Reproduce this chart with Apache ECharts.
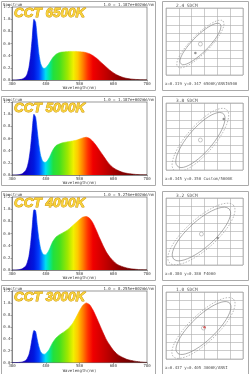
<!DOCTYPE html>
<html>
<head>
<meta charset="utf-8">
<script src="https://cdn.jsdelivr.net/npm/echarts/dist/echarts.min.js"></script>
<style>
html, body { margin: 0; padding: 0; background: #fff; }
#chart { width: 250px; height: 374px; }
</style>
</head>
<body>
<div id="chart"></div>
<script>
// spectra, normalized
var wavelengths = [380, 390, 400, 410, 420, 425, 430, 435, 440, 445, 450, 455, 460, 465, 470, 475,
  480, 490, 500, 510, 520, 530, 540, 550, 560, 570, 580, 590, 600, 610, 620, 630, 640, 650, 660, 670,
  680, 690, 700, 710, 720, 730, 740, 750, 760, 770, 780]
var spec6500 = [0, 0, 0.005, 0.015, 0.05, 0.1, 0.2, 0.4, 0.7, 1.0, 0.95, 0.68, 0.42, 0.27, 0.21, 0.19,
  0.2, 0.27, 0.36, 0.42, 0.45, 0.46, 0.465, 0.47, 0.47, 0.47, 0.465, 0.46, 0.45, 0.43, 0.4, 0.36, 0.31, 0.26, 0.21, 0.16,
  0.12, 0.085, 0.06, 0.04, 0.027, 0.018, 0.012, 0.008, 0.005, 0.003, 0.002]
var spec5000 = [0, 0, 0.005, 0.02, 0.07, 0.13, 0.25, 0.45, 0.75, 1.0, 0.95, 0.72, 0.48, 0.32, 0.24, 0.21,
  0.21, 0.28, 0.4, 0.48, 0.51, 0.53, 0.54, 0.55, 0.56, 0.57, 0.59, 0.61, 0.62, 0.6, 0.55, 0.48, 0.4, 0.32, 0.24, 0.17,
  0.12, 0.085, 0.06, 0.04, 0.028, 0.019, 0.013, 0.008, 0.005, 0.003, 0.002]
var spec4000 = [0, 0, 0.005, 0.02, 0.06, 0.12, 0.22, 0.42, 0.72, 0.99, 0.98, 0.72, 0.5, 0.35, 0.28, 0.25,
  0.25, 0.33, 0.46, 0.54, 0.58, 0.61, 0.64, 0.68, 0.73, 0.78, 0.83, 0.87, 0.88, 0.85, 0.77, 0.65, 0.52, 0.4, 0.29, 0.21,
  0.15, 0.1, 0.07, 0.05, 0.033, 0.022, 0.015, 0.01, 0.006, 0.004, 0.002]
var spec3000 = [0, 0, 0.003, 0.01, 0.035, 0.07, 0.13, 0.25, 0.42, 0.54, 0.52, 0.38, 0.26, 0.18, 0.15, 0.14,
  0.15, 0.22, 0.33, 0.41, 0.46, 0.5, 0.54, 0.59, 0.66, 0.76, 0.87, 0.96, 1.0, 0.97, 0.88, 0.76, 0.63, 0.5, 0.38, 0.29,
  0.21, 0.15, 0.11, 0.08, 0.055, 0.04, 0.028, 0.018, 0.012, 0.007, 0.004]
var spectra = [spec6500, spec5000, spec4000, spec3000]

var cctNames = ['CCT 6500K', 'CCT 5000K', 'CCT 4000K', 'CCT 3000K']
var scaleTexts = ['1.0 = 1.187e+002mW/nm', '1.0 = 1.187e+002mW/nm', '1.0 = 5.276e+002mW/nm', '1.0 = 8.255e+002mW/nm']
var sdcmTexts = ['2.4 SDCM', '3.8 SDCM', '3.2 SDCM', '1.0 SDCM']
var xyTexts = ['x=0.319 y=0.347 6500K/ANSI6500', 'x=0.345 y=0.350 Custom/5000K', 'x=0.380 y=0.380 F4000', 'x=0.437 y=0.405 3000K/ANSI']

// ellipse chart (grid units)
var ellipseCenters = [[2.68, 3.70], [2.68, 3.58], [2.76, 3.70], [2.92, 3.70]]
var ellipseMajor = [[1.54, 2.39], [1.78, 3.16], [2.17, 2.99], [2.04, 2.99]]
var ellipseMinor = [[0.45, -0.67], [0.72, -0.93], [0.69, -1.15], [0.66, -1.03]]
var measuredPoints = [[2.29, 2.63], [4.5, 6.09], [4.03, 3.22], [3.0, 3.8]]

var rowTops = [0, 95, 190, 284]

function wl(w) { return (w - 380) / 400 }
var specGradient = [
  [380, '#1a0080'], [420, '#1000c0'], [445, '#0018e0'], [460, '#0040ff'], [472, '#00a0ff'],
  [480, '#00e0f0'], [490, '#00e8a0'], [502, '#20e040'], [520, '#40e020'], [545, '#a0e800'],
  [562, '#f0f000'], [575, '#ffc800'], [590, '#ff8000'], [605, '#ff3000'], [620, '#f00000'],
  [660, '#c00000'], [700, '#8a0000'], [780, '#4a0000']
].map(function (s) { return { offset: wl(s[0]), color: s[1] } })

function ellipse(c, u, v, s) {
  var pts = []
  for (var i = 0; i <= 90; i++) {
    var t = i / 90 * Math.PI * 2
    pts.push([
      c[0] + s * (u[0] * Math.cos(t) + v[0] * Math.sin(t)),
      c[1] + s * (u[1] * Math.cos(t) + v[1] * Math.sin(t))
    ])
  }
  return pts
}

var chart = echarts.init(document.getElementById('chart'))
var mono = 'DejaVu Sans Mono'
var grid = [], xAxis = [], yAxis = [], series = [], graphic = []

rowTops.forEach(function (top, i) {
  // spectrum
  grid.push({ left: 12, top: top + 7, width: 135, height: 73, show: true, borderColor: '#555', borderWidth: 0.6 })
  xAxis.push({
    type: 'value', gridIndex: 2 * i, min: 380, max: 780, interval: 100,
    name: 'Wavelength(nm)', nameLocation: 'middle', nameGap: 6,
    nameTextStyle: { fontSize: 4, fontFamily: mono, color: '#444' },
    axisLine: { lineStyle: { color: '#555', width: 0.6 } },
    axisTick: { length: 1.5, lineStyle: { color: '#555', width: 0.5 } },
    axisLabel: { fontSize: 4, fontFamily: mono, color: '#444', margin: 1.5 },
    splitLine: { show: false }
  })
  yAxis.push({
    type: 'value', gridIndex: 2 * i, min: 0, max: 1.2, interval: 0.2,
    axisLine: { show: true, lineStyle: { color: '#555', width: 0.6 } },
    axisTick: { show: true, length: 1.5, lineStyle: { color: '#555', width: 0.5 } },
    axisLabel: { fontSize: 4, fontFamily: mono, color: '#444', margin: 1.5, formatter: function (v) { return v.toFixed(1) } },
    splitLine: { show: false }
  })
  series.push({
    type: 'line', xAxisIndex: 2 * i, yAxisIndex: 2 * i,
    data: wavelengths.map(function (w, k) { return [w, spectra[i][k]] }),
    showSymbol: false, smooth: 0.2,
    lineStyle: { width: 0.6, color: new echarts.graphic.LinearGradient(0, 0, 1, 0, specGradient) },
    areaStyle: { opacity: 1, color: new echarts.graphic.LinearGradient(0, 0, 1, 0, specGradient) }
  })

  // ellipse
  grid.push({ left: 166, top: top + 8, width: 77, height: 67, show: true, borderColor: '#999', borderWidth: 0.6 })
  xAxis.push({
    type: 'value', gridIndex: 2 * i + 1, min: 0, max: 6, interval: 1,
    axisLine: { show: false }, axisTick: { show: false }, axisLabel: { show: false },
    splitLine: { lineStyle: { color: '#aaa', width: 0.6 } }
  })
  yAxis.push({
    type: 'value', gridIndex: 2 * i + 1, min: 0, max: 8, interval: 1,
    axisLine: { show: false }, axisTick: { show: false }, axisLabel: { show: false },
    splitLine: { lineStyle: { color: '#aaa', width: 0.6 } }
  })
  series.push({
    type: 'line', xAxisIndex: 2 * i + 1, yAxisIndex: 2 * i + 1, showSymbol: false, silent: true,
    data: ellipse(ellipseCenters[i], ellipseMajor[i], ellipseMinor[i], 1),
    lineStyle: { color: '#888', width: 0.7 }
  })
  series.push({
    type: 'line', xAxisIndex: 2 * i + 1, yAxisIndex: 2 * i + 1, showSymbol: false, silent: true,
    data: ellipse(ellipseCenters[i], ellipseMajor[i], ellipseMinor[i], 1.15),
    lineStyle: { color: '#999', width: 0.7, type: [1.5, 1.5] }
  })
  series.push({
    type: 'scatter', xAxisIndex: 2 * i + 1, yAxisIndex: 2 * i + 1,
    data: [ellipseCenters[i]], symbolSize: 4,
    itemStyle: { color: '#fff', borderColor: '#888', borderWidth: 0.6 }
  })
  series.push({
    type: 'scatter', xAxisIndex: 2 * i + 1, yAxisIndex: 2 * i + 1,
    data: [measuredPoints[i]], symbolSize: 2.5,
    itemStyle: { color: i === 3 ? '#d04040' : '#777' }
  })

  // frames and texts
  graphic.push({ type: 'rect', shape: { x: 1.5, y: top + 1.5, width: 154, height: 89 }, style: { fill: 'none', stroke: '#aaa', lineWidth: 1 }, z: 1 })
  graphic.push({ type: 'rect', shape: { x: 162.5, y: top + 1.5, width: 86, height: 89 }, style: { fill: 'none', stroke: '#aaa', lineWidth: 1 }, z: 1 })
  graphic.push({ type: 'text', x: 3, y: top + 2.5, style: { text: 'Spectrum', font: '4px ' + mono, fill: '#444' } })
  graphic.push({ type: 'text', x: 154, y: top + 2.5, style: { text: scaleTexts[i], font: '4px ' + mono, fill: '#444', textAlign: 'right' } })
  graphic.push({
    type: 'text', x: 14, y: top + 6, z: 10,
    style: { text: cctNames[i], font: 'italic bold 13.5px "Liberation Sans"', fill: '#f8d23a', stroke: '#c99000', lineWidth: 0.8 }
  })
  graphic.push({ type: 'text', x: 176, y: top + 3, style: { text: sdcmTexts[i], font: '4.5px ' + mono, fill: '#555' } })
  graphic.push({ type: 'text', x: 165, y: top + 82, style: { text: xyTexts[i], font: '4px ' + mono, fill: '#555' } })
})

chart.setOption({
  animation: false,
  grid: grid,
  xAxis: xAxis,
  yAxis: yAxis,
  series: series,
  graphic: graphic
})
</script>
</body>
</html>
